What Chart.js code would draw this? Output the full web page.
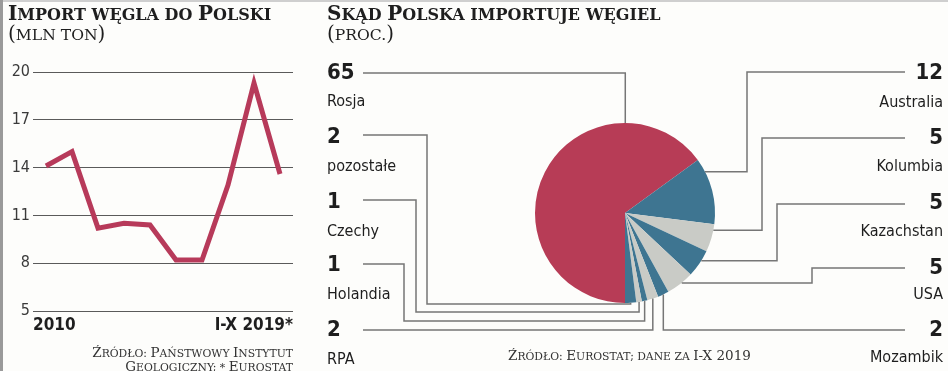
<!DOCTYPE html>
<html>
<head>
<meta charset="utf-8">
<script src="https://cdn.jsdelivr.net/npm/chart.js@4"></script>
<style>
  html, body { margin: 0; padding: 0; }
  body { width: 948px; height: 371px; position: relative; overflow: hidden; background: #fdfdfb; }
  .frame-top { position: absolute; left: 0; top: 0; width: 948px; height: 2px; background: #cfcfcf; }
  .frame-left { position: absolute; left: 0; top: 0; width: 3px; height: 371px; background: #9a9a9a; }
  .title { position: absolute; font: bold 20px 'DejaVu Serif', serif; color: #1e1e1e; white-space: nowrap; line-height: 20px; }
  .sub { position: absolute; font: 20px 'DejaVu Serif', serif; color: #1e1e1e; white-space: nowrap; line-height: 22px; }
  .src { position: absolute; font: 13.5px 'DejaVu Serif', serif; color: #333; white-space: nowrap; line-height: 12px; }
  .sc { text-transform: uppercase; font-size: 0.8em; }
  .sub .sc { font-size: 0.78em; }
  canvas { position: absolute; left: 0; top: 0; }
</style>
</head>
<body>
<div class="frame-top"></div>
<div class="frame-left"></div>

<canvas id="pie" width="948" height="371"></canvas>
<canvas id="line" width="310" height="371"></canvas>

<div class="title" style="left:8px; top:3px;">I<span class="sc">mport węgla do </span>P<span class="sc">olski</span></div>
<div class="sub" style="left:8px; top:22px;">(<span class="sc">mln ton</span>)</div>
<div class="title" style="left:327px; top:3px;">S<span class="sc">kąd </span>P<span class="sc">olska importuje węgiel</span></div>
<div class="sub" style="left:327px; top:22px;">(<span class="sc">proc.</span>)</div>
<div class="src" style="right:655px; top:346px; text-align:right;">Ź<span class="sc">ródło: </span>P<span class="sc">aństwowy </span>I<span class="sc">nstytut</span><br>G<span class="sc">eologiczny; * </span>E<span class="sc">urostat</span></div>
<div class="src" style="left:508px; top:349px;">Ź<span class="sc">ródło: </span>E<span class="sc">urostat; dane za </span>I-X 2019</div>

<script>
// --- data: import (mln ton)
const years = ['2010', '2011', '2012', '2013', '2014', '2015', '2016', '2017', '2018', 'I-X 2019*'];
const imports = [14.1, 15.0, 10.2, 10.5, 10.4, 8.2, 8.2, 12.9, 19.3, 13.6];
const yTicks = [5, 8, 11, 14, 17, 20];

// --- data: where coal comes from (percent)
const countries = ['Rosja', 'Australia', 'Kolumbia', 'Kazachstan', 'USA', 'Mozambik', 'RPA', 'Holandia', 'Czechy', 'pozostałe'];
const shares = [65, 12, 5, 5, 5, 2, 2, 1, 1, 2];

const RED = '#b73c56';
const BLUE = '#3e7591';
const GREY = '#c9cbc6';
const sliceColors = [RED, BLUE, GREY, BLUE, GREY, BLUE, GREY, BLUE, GREY, BLUE];

const NARROW = "'Liberation Sans Narrow', 'DejaVu Sans Condensed', Roboto, sans-serif";

// label placement for the pie (one entry per slice, same order)
const labelLayout = [
  { side: 'left',  numY: 73,  nameY: 102, lineY: 73,  route: 'down', frac: 0.77 },
  { side: 'right', numY: 73,  nameY: 103, lineY: 72,  route: 'elbowH', elbowX: 747, frac: 0.2 },
  { side: 'right', numY: 138, nameY: 167, lineY: 138, route: 'elbowH', elbowX: 762, frac: 0.21 },
  { side: 'right', numY: 203, nameY: 232, lineY: 204, route: 'elbowH', elbowX: 777, frac: 0.38 },
  { side: 'right', numY: 268, nameY: 295, lineY: 268, route: 'elbowH', elbowX: 812, frac: 0.43 },
  { side: 'right', numY: 330, nameY: 358, lineY: 330, route: 'up', frac: 0.5 },
  { side: 'left',  numY: 330, nameY: 360, lineY: 330, route: 'up', frac: 0.5 },
  { side: 'left',  numY: 265, nameY: 295, lineY: 264, route: 'elbowV', elbowX: 404, lowY: 321, frac: 0.5 },
  { side: 'left',  numY: 202, nameY: 232, lineY: 200, route: 'elbowV', elbowX: 416, lowY: 312, frac: 0.5 },
  { side: 'left',  numY: 137, nameY: 167, lineY: 135, route: 'elbowV', elbowX: 427, lowY: 304, frac: 0.5 }
];

// leader lines and labels around the pie
const pieLabels = {
  id: 'pieLabels',
  afterDatasetsDraw(chart) {
    const ctx = chart.ctx;
    const arcs = chart.getDatasetMeta(0).data;
    ctx.save();
    arcs.forEach((arc, i) => {
      const L = labelLayout[i];
      const a = arc.startAngle + L.frac * (arc.endAngle - arc.startAngle);
      const ax = arc.x + arc.outerRadius * Math.cos(a);
      const ay = arc.y + arc.outerRadius * Math.sin(a);
      const x0 = L.side === 'left' ? 363 : 905;

      ctx.strokeStyle = '#767676';
      ctx.lineWidth = 1.5;
      ctx.beginPath();
      ctx.moveTo(x0, L.lineY);
      if (L.route === 'down' || L.route === 'up') {
        ctx.lineTo(ax, L.lineY);
        ctx.lineTo(ax, ay);
      } else if (L.route === 'elbowH') {
        ctx.lineTo(L.elbowX, L.lineY);
        ctx.lineTo(L.elbowX, ay);
        ctx.lineTo(ax, ay);
      } else {
        ctx.lineTo(L.elbowX, L.lineY);
        ctx.lineTo(L.elbowX, L.lowY);
        ctx.lineTo(ax, L.lowY);
        ctx.lineTo(ax, ay);
      }
      ctx.stroke();

      const tx = L.side === 'left' ? 327 : 943;
      ctx.textAlign = L.side === 'left' ? 'left' : 'right';
      ctx.textBaseline = 'middle';
      ctx.fillStyle = '#1e1e1e';
      ctx.font = 'bold 22px ' + NARROW;
      ctx.fillText(String(shares[i]), tx, L.numY);
      ctx.font = '16px ' + NARROW;
      ctx.fillText(countries[i], tx, L.nameY);
    });
    ctx.restore();
  }
};

new Chart(document.getElementById('pie'), {
  type: 'pie',
  data: {
    labels: countries,
    datasets: [{
      data: shares,
      backgroundColor: sliceColors,
      borderWidth: 0
    }]
  },
  options: {
    responsive: false,
    animation: false,
    rotation: 180,
    layout: { padding: { left: 535, right: 233, top: 123, bottom: 68 } },
    plugins: { legend: { display: false }, tooltip: { enabled: false } }
  },
  plugins: [pieLabels]
});

new Chart(document.getElementById('line'), {
  type: 'line',
  data: {
    datasets: [{
      data: imports.map((v, i) => ({ x: i, y: v })),
      borderColor: '#b73a5a',
      borderWidth: 5,
      pointRadius: 0,
      tension: 0,
      borderJoinStyle: 'miter'
    }]
  },
  options: {
    responsive: false,
    animation: false,
    layout: { padding: { left: 0, right: 17, top: 72, bottom: 0 } },
    plugins: { legend: { display: false }, tooltip: { enabled: false } },
    scales: {
      x: {
        type: 'linear',
        min: -0.5,
        max: years.length - 0.5,
        afterBuildTicks: s => { s.ticks = [{ value: -0.5 }, { value: years.length - 0.5 }]; },
        afterFit: s => { s.height = 60; },
        grid: { display: false, drawTicks: false },
        border: { display: false },
        ticks: {
          autoSkip: false,
          maxRotation: 0,
          align: 'inner',
          padding: 4,
          color: '#1e1e1e',
          font: { family: NARROW, size: 17, weight: 'bold' },
          callback: v => v < 0 ? years[0] : years[years.length - 1]
        }
      },
      y: {
        min: 5,
        max: 20,
        afterBuildTicks: s => { s.ticks = yTicks.map(v => ({ value: v })); },
        afterFit: s => { s.width = 33; },
        grid: { color: '#5a5a5a', lineWidth: 1, drawTicks: false },
        border: { display: false },
        ticks: {
          padding: 3,
          color: '#3a3a3a',
          font: { family: NARROW, size: 16 }
        }
      }
    }
  }
});
</script>
</body>
</html>
